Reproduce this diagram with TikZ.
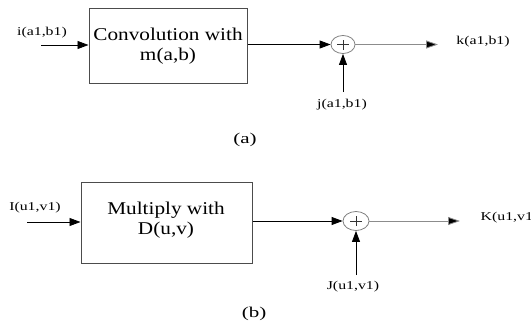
\documentclass[tikz,border=0pt]{standalone}
\usepackage{fontspec}
\setmainfont{Liberation Serif}
\usetikzlibrary{arrows.meta,shapes.geometric}

\tikzset{
    block/.style={draw=black!70, line width=1pt, inner sep=0pt},
    summer/.style={ellipse, draw=black!50, line width=0.8pt, inner sep=0pt,
        minimum width=24pt, minimum height=18pt,
        path picture={
            \draw[black!80, line width=0.7pt]
                ([xshift=-6pt]path picture bounding box.center) -- ([xshift=6pt]path picture bounding box.center)
                ([yshift=-5pt]path picture bounding box.center) -- ([yshift=5pt]path picture bounding box.center);
        }},
    sig/.style={-{Triangle[length=11pt,width=8pt]}, line width=0.8pt},
    outsig/.style={sig, draw=black!45, -{Triangle[length=12pt,width=8pt,fill=black]}},
    boxtext/.style={font=\fontsize{18}{19.5}\selectfont, align=center, xscale=1.18},
    sigtext/.style={font=\fontsize{12}{14}\selectfont, xscale=1.32},
    caption/.style={font=\fontsize{15}{17}\selectfont, xscale=1.4}
}

\begin{document}
\begin{tikzpicture}[x=1pt, y=-1pt]
    \useasboundingbox (0,0) rectangle (531,324);

    % (a) convolution in space
    \node[block, minimum width=158pt, minimum height=75pt] (boxA) at (168,45.5) {};
    \node[boxtext] (convA) at (168,46) {Convolution with\\m(a,b)};
    \node[summer] (sumA) at (343,44.5) {};

    \coordinate (inA) at (41,45);
    \coordinate (outA) at (438,44.5);
    \coordinate (addA) at (343,92);

    \draw[sig] (inA) -- (boxA.west |- inA);
    \draw[sig] (boxA.east |- sumA) -- (sumA.west);
    \draw[outsig] (sumA.east) -- (outA);
    \draw[sig] (addA) -- (sumA.south);

    % -- signal names
    \node[sigtext] (iA) at (42,33) {i(a1,b1)};
    \node[sigtext] (kA) at (483,42) {k(a1,b1)};
    \node[sigtext] (jA) at (342,105) {j(a1,b1)};
    \node[caption] (capA) at (245,140) {(a)};

    % (b) multiplication in frequency
    \node[block, minimum width=171pt, minimum height=81pt] (boxB) at (166.5,222.5) {};
    \node[boxtext] (multB) at (166,220) {Multiply with\\D(u,v)};
    \node[summer, minimum width=26pt, minimum height=19pt] (sumB) at (356,221) {};

    \coordinate (inB) at (27,222);
    \coordinate (outB) at (460,221);
    \coordinate (addB) at (356,275);

    \draw[sig] (inB) -- (boxB.west |- inB);
    \draw[sig] (boxB.east |- sumB) -- (sumB.west);
    \draw[outsig] (sumB.east) -- (outB);
    \draw[sig] (addB) -- (sumB.south);

    % -- signal names
    \node[sigtext] (IB) at (35,208) {I(u1,v1)};
    \node[sigtext, anchor=west] (KB) at (476,218) {K(u1,v1)};
    \node[sigtext] (JB) at (353,287) {J(u1,v1)};
    \node[caption] (capB) at (254,314) {(b)};
\end{tikzpicture}
\end{document}
